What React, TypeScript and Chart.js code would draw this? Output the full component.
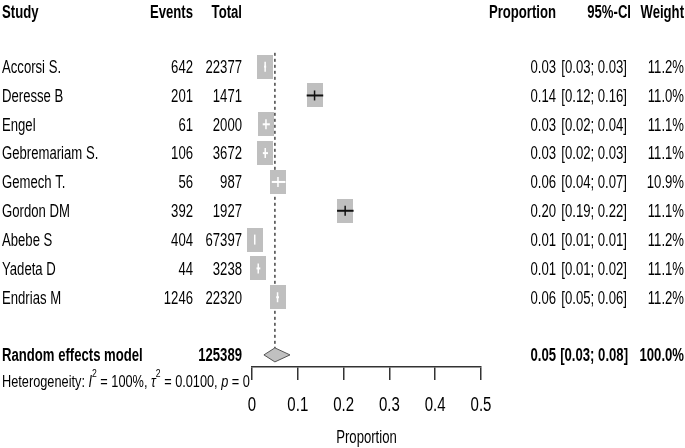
import { useEffect, useRef } from "react";
import { Chart, registerables } from "chart.js";

Chart.register(...registerables);

// ---- data ----
const studies = ["Accorsi S.", "Deresse B", "Engel", "Gebremariam S.", "Gemech T.", "Gordon DM", "Abebe S", "Yadeta D", "Endrias M"];
const events = [642, 201, 61, 106, 56, 392, 404, 44, 1246];
const totals = [22377, 1471, 2000, 3672, 987, 1927, 67397, 3238, 22320];
const proportions = [0.0287, 0.1366, 0.0305, 0.0289, 0.0567, 0.2034, 0.006, 0.0136, 0.0558];
const ciLower = [0.0265, 0.1194, 0.0234, 0.0237, 0.0432, 0.1857, 0.0054, 0.0099, 0.0528];
const ciUpper = [0.0309, 0.1555, 0.039, 0.0349, 0.073, 0.2218, 0.0066, 0.0182, 0.0589];
const weights = [11.2, 11.0, 11.1, 11.1, 10.9, 11.1, 11.2, 11.1, 11.2];
const pooledLabel = "Random effects model";
const pooledTotal = 125389;
const pooledEst = 0.05;
const pooledLower = 0.026;
const pooledUpper = 0.083;
const pooledWeight = 100.0;
const xTicks = [0, 0.1, 0.2, 0.3, 0.4, 0.5];
const headers = ["Study", "Events", "Total", "Proportion", "95%-CI", "Weight"];
const axisTitle = "Proportion";
const heterogeneity = [
  { t: "Heterogeneity: ", it: false, sup: false },
  { t: "I", it: true, sup: false },
  { t: "2", it: false, sup: true },
  { t: " = 100%, ", it: false, sup: false },
  { t: "\u03c4", it: true, sup: false },
  { t: "2", it: false, sup: true },
  { t: " = 0.0100, ", it: false, sup: false },
  { t: "p", it: true, sup: false },
  { t: " = 0", it: false, sup: false },
];

// ---- style ----
const SX = 0.75;
const FAM = '"Liberation Sans", Arial, sans-serif';
const FS = 17.5;
const BOX_W = 16;
const BOX_H = 24;
const BOX_COLOR = "#bfbfbf";
const HEADER_ROW = -1.9;
const POOLED_ROW = 10;
const HET_ROW = 10.9;

function drawTxt(ctx: CanvasRenderingContext2D, s: string, x: number, yCenter: number, align: CanvasTextAlign, size = FS, bold = false, italic = false) {
  ctx.save();
  ctx.font = `${italic ? "italic " : ""}${bold ? "bold " : ""}${size}px ${FAM}`;
  ctx.fillStyle = "#000";
  ctx.textBaseline = "alphabetic";
  ctx.textAlign = align;
  ctx.translate(x, yCenter + size * 0.716 / 2);
  ctx.scale(SX, 1);
  ctx.fillText(s, 0, 0);
  ctx.restore();
}

export default function App() {
  const ref = useRef<HTMLCanvasElement>(null);
  useEffect(() => {
    document.body.style.margin = "0";
    const maxW = Math.max(...weights);
    const boxes = weights.map((w) => {
      const s = Math.sqrt(w / maxW);
      const c = document.createElement("canvas");
      c.width = Math.round(BOX_W * s);
      c.height = Math.round(BOX_H * s);
      const g = c.getContext("2d")!;
      g.fillStyle = BOX_COLOR;
      g.fillRect(0, 0, c.width, c.height);
      return c;
    });

    const refLine = {
      id: "refLine",
      beforeDatasetsDraw(chart: any) {
        const { ctx, scales } = chart;
        const x = scales.x.getPixelForValue(pooledEst);
        ctx.save();
        ctx.strokeStyle = "#444";
        ctx.lineWidth = 1.5;
        ctx.setLineDash([3, 3]);
        ctx.beginPath();
        ctx.moveTo(x, scales.y.getPixelForValue(-0.48));
        ctx.lineTo(x, scales.y.getPixelForValue(POOLED_ROW) - 7);
        ctx.stroke();
        ctx.restore();
      },
    };

    const marks = {
      id: "marks",
      afterDatasetsDraw(chart: any) {
        const { ctx, scales } = chart;
        const xs = scales.x, ys = scales.y;
        ctx.save();
        proportions.forEach((p, i) => {
          const y = ys.getPixelForValue(i);
          const xl = xs.getPixelForValue(ciLower[i]);
          const xu = xs.getPixelForValue(ciUpper[i]);
          const xc = xs.getPixelForValue(p);
          const bw = boxes[i].width;
          const inside = xl >= xc - bw / 2 && xu <= xc + bw / 2;
          ctx.strokeStyle = inside ? "#fff" : "#111";
          ctx.lineWidth = 2;
          ctx.beginPath();
          ctx.moveTo(xl, y);
          ctx.lineTo(xu, y);
          ctx.stroke();
          ctx.lineWidth = 1.5;
          ctx.beginPath();
          ctx.moveTo(xc, y - 5);
          ctx.lineTo(xc, y + 5);
          ctx.stroke();
        });
        // diamond
        const yd = ys.getPixelForValue(POOLED_ROW);
        const xl = xs.getPixelForValue(pooledLower);
        const xu = xs.getPixelForValue(pooledUpper);
        const xc = xs.getPixelForValue(pooledEst);
        ctx.beginPath();
        ctx.moveTo(xl, yd);
        ctx.lineTo(xc, yd - 7);
        ctx.lineTo(xu, yd);
        ctx.lineTo(xc, yd + 7);
        ctx.closePath();
        ctx.fillStyle = "#c0c0c0";
        ctx.fill();
        ctx.strokeStyle = "#555";
        ctx.lineWidth = 1;
        ctx.stroke();
        ctx.restore();
      },
    };

    const texts = {
      id: "texts",
      afterDraw(chart: any) {
        const { ctx, scales } = chart;
        const ys = scales.y, xs = scales.x;
        const hy = ys.getPixelForValue(HEADER_ROW);
        const colX = [2, 193, 242, 556, 631, 684];
        const colA: CanvasTextAlign[] = ["left", "right", "right", "right", "right", "right"];
        headers.forEach((h, i) => drawTxt(ctx, h, colX[i], hy, colA[i], FS, true));
        studies.forEach((s, i) => {
          const y = ys.getPixelForValue(i);
          drawTxt(ctx, s, 2, y, "left");
          drawTxt(ctx, String(events[i]), 193, y, "right");
          drawTxt(ctx, String(totals[i]), 242, y, "right");
          drawTxt(ctx, proportions[i].toFixed(2), 556, y, "right");
          drawTxt(ctx, `[${ciLower[i].toFixed(2)}; ${ciUpper[i].toFixed(2)}]`, 627, y, "right");
          drawTxt(ctx, `${weights[i].toFixed(1)}%`, 684, y, "right");
        });
        const py = ys.getPixelForValue(POOLED_ROW);
        drawTxt(ctx, pooledLabel, 2, py, "left", FS, true);
        drawTxt(ctx, String(pooledTotal), 242, py, "right", FS, true);
        drawTxt(ctx, pooledEst.toFixed(2), 556, py, "right", FS, true);
        drawTxt(ctx, `[${pooledLower.toFixed(2)}; ${pooledUpper.toFixed(2)}]`, 628, py, "right", FS, true);
        drawTxt(ctx, `${pooledWeight.toFixed(1)}%`, 684, py, "right", FS, true);
        // heterogeneity
        const hety = ys.getPixelForValue(HET_ROW);
        let x = 2;
        const hs = 17;
        heterogeneity.forEach((seg) => {
          const size = seg.sup ? 11.5 : hs;
          ctx.save();
          ctx.font = `${seg.it ? "italic " : ""}${size}px ${FAM}`;
          const w = ctx.measureText(seg.t).width * SX;
          ctx.restore();
          drawTxt(ctx, seg.t, x, seg.sup ? hety - 8 : hety, "left", size, false, seg.it);
          x += w;
        });
        // x tick labels
        xs.ticks.forEach((t: any) => {
          const px = xs.getPixelForValue(t.value);
          drawTxt(ctx, String(Math.round(t.value * 10) / 10), px, 404, "center", 20);
        });
        drawTxt(ctx, axisTitle, (xs.left + xs.right) / 2, 437, "center", FS);
      },
    };

    const chart = new Chart(ref.current!, {
      type: "scatter",
      data: {
        datasets: [
          {
            data: proportions.map((p, i) => ({ x: p, y: i })),
            pointStyle: boxes as any,
            pointRadius: 8,
            pointHoverRadius: 8,
            clip: false as any,
          },
        ],
      },
      options: {
        responsive: false,
        animation: false,
        events: [],
        layout: { padding: { left: 252, right: 204, top: 6, bottom: 68 } },
        plugins: { legend: { display: false }, tooltip: { enabled: false } },
        scales: {
          x: {
            type: "linear",
            min: 0,
            max: 0.5,
            position: "bottom",
            afterBuildTicks: (axis: any) => {
              axis.ticks = xTicks.map((v) => ({ value: v }));
            },
            ticks: { display: false },
            grid: { drawOnChartArea: false, drawTicks: true, tickLength: 13, color: "#333", lineWidth: 1.5 },
            border: { display: true, color: "#333", width: 1.5 },
          },
          y: { type: "linear", min: -2, max: 10.42, reverse: true, display: false },
        },
      },
      plugins: [refLine, marks, texts],
    });
    return () => chart.destroy();
  }, []);
  return (
    <div style={{ position: "absolute", left: 0, top: 0, width: 685, height: 448, background: "#fff" }}>
      <canvas ref={ref} width={685} height={448} style={{ width: 685, height: 448 }} />
    </div>
  );
}
